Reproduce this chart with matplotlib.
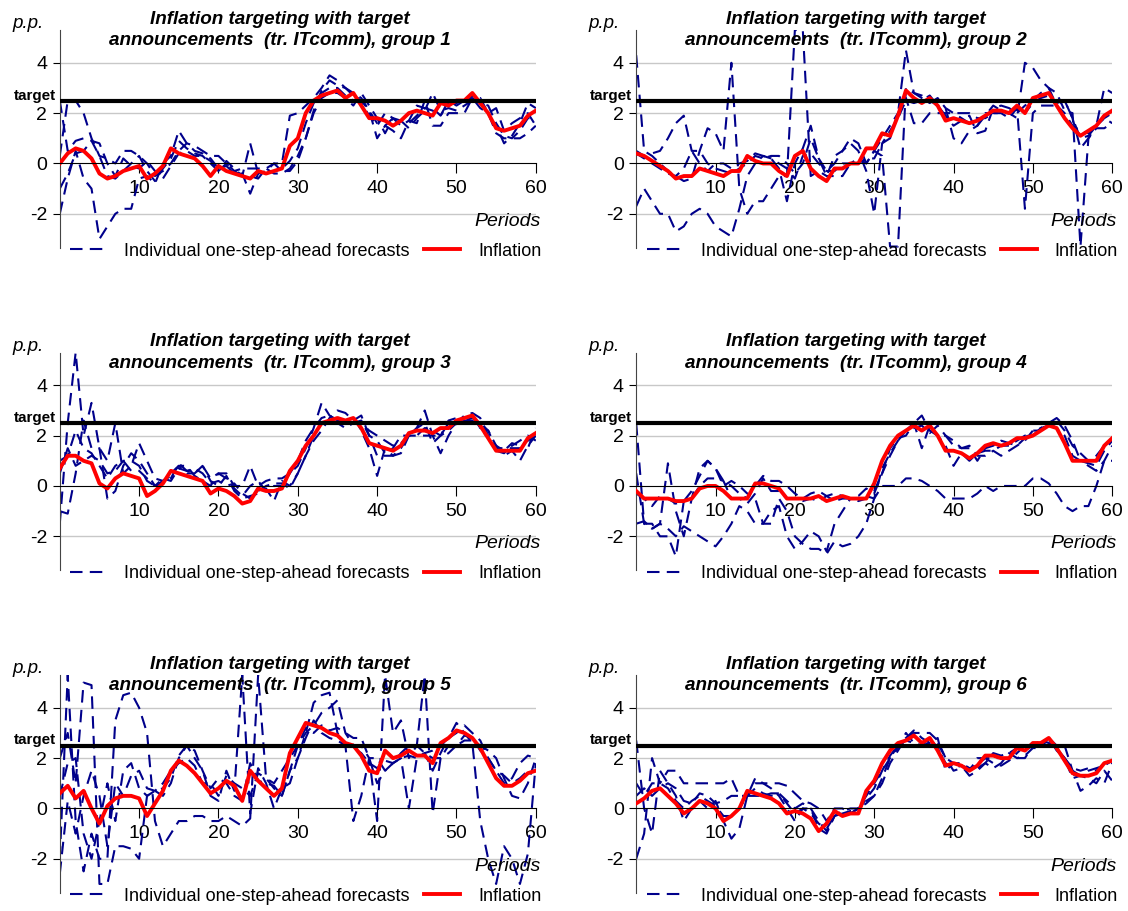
import matplotlib.pyplot as plt
import numpy as np

plt.rcParams['font.family'] = ['Liberation Sans', 'DejaVu Sans']
plt.rcParams['axes.unicode_minus'] = False

def parse(s):
    return [float(v) for v in s.replace('\n', '').split(',')]

# inflation, periods 0..60
infl = {
    1: parse("0.0,0.4,0.6,0.5,0.2,-0.4,-0.6,-0.5,-0.3,-0.2,-0.1,-0.6,-0.4,-0.1,0.6,0.4,0.3,0.2,-0.1,-0.5,-0.1,-0.3,-0.4,-0.5,-0.6,-0.3,-0.4,-0.3,-0.2,0.7,1.0,2.0,2.5,2.7,2.8,2.9,2.6,2.8,2.3,1.8,1.8,1.7,1.5,1.7,2.0,2.1,2.0,1.9,2.4,2.3,2.5,2.5,2.8,2.4,2.0,1.4,1.3,1.4,1.5,1.9,2.1"),
    2: parse("0.4,0.3,0.1,-0.1,-0.3,-0.6,-0.5,-0.5,-0.2,-0.3,-0.4,-0.5,-0.3,-0.3,0.3,0.1,0.0,0.0,-0.3,-0.5,0.3,0.5,-0.2,-0.5,-0.7,-0.2,-0.2,0.0,0.0,0.6,0.6,1.2,1.1,1.9,2.9,2.6,2.4,2.6,2.3,1.7,1.8,1.7,1.6,1.7,1.9,2.1,2.1,2.0,2.3,2.0,2.6,2.7,2.8,2.3,1.8,1.4,1.1,1.3,1.5,1.9,2.1"),
    3: parse("0.7,1.2,1.2,1.0,0.9,0.1,-0.1,0.3,0.5,0.4,0.3,-0.4,-0.2,0.1,0.6,0.5,0.4,0.3,0.2,-0.3,-0.1,-0.2,-0.4,-0.7,-0.6,-0.1,-0.2,-0.2,-0.1,0.6,1.0,1.6,2.0,2.5,2.6,2.7,2.6,2.7,2.3,1.7,1.6,1.5,1.4,1.6,2.1,2.2,2.2,2.1,2.3,2.3,2.6,2.7,2.8,2.4,1.9,1.4,1.4,1.4,1.4,1.9,2.1"),
    4: parse("-0.2,-0.5,-0.5,-0.5,-0.5,-0.6,-0.6,-0.5,-0.1,0.0,0.0,-0.2,-0.5,-0.5,-0.5,0.1,0.1,0.0,-0.1,-0.5,-0.5,-0.5,-0.5,-0.4,-0.6,-0.5,-0.4,-0.5,-0.5,-0.5,0.1,1.0,1.6,2.0,2.2,2.4,2.2,2.4,2.0,1.4,1.4,1.3,1.1,1.3,1.6,1.7,1.6,1.7,1.9,1.9,2.0,2.2,2.4,2.3,1.7,1.0,1.0,1.0,1.0,1.6,1.9"),
    5: parse("0.6,0.9,0.4,0.7,0.0,-0.6,0.1,0.4,0.5,0.5,0.4,-0.3,0.2,0.7,1.5,1.9,1.7,1.4,1.0,0.6,0.8,1.1,0.9,0.3,1.5,1.1,0.8,0.5,0.8,2.2,2.8,3.4,3.3,3.2,3.0,2.9,2.6,2.5,2.1,1.5,1.4,2.3,2.0,2.1,2.3,2.1,2.1,1.8,2.6,2.8,3.1,3.0,2.8,2.4,1.8,1.2,0.9,0.9,1.1,1.4,1.5"),
    6: parse("0.2,0.4,0.7,0.8,0.5,0.2,-0.2,0.0,0.3,0.2,0.0,-0.5,-0.3,0.0,0.7,0.6,0.5,0.4,0.2,-0.2,-0.1,-0.2,-0.4,-0.9,-0.6,-0.1,-0.3,-0.2,-0.2,0.7,1.1,1.8,2.3,2.6,2.7,2.9,2.6,2.8,2.3,1.7,1.8,1.7,1.5,1.7,2.1,2.1,2.0,2.0,2.4,2.3,2.6,2.6,2.8,2.4,1.9,1.4,1.3,1.3,1.4,1.8,1.9"),
}

# individual one-step-ahead forecasts, periods 0..60
fcst = {
    1: [parse("2.5,0.5,0.9,1.0,0.9,0.3,-0.5,-0.6,-0.3,0.0,0.3,-0.3,-0.7,-0.2,0.2,0.9,0.6,0.4,0.3,0.0,-0.3,0.1,-0.2,-0.5,0.8,-0.4,-0.4,-0.3,-0.2,0.1,0.6,1.6,2.4,2.8,3.0,3.0,2.7,2.5,2.4,1.9,1.5,2.0,1.8,1.5,1.7,2.3,2.2,2.2,1.9,2.4,2.4,2.4,2.7,2.5,1.9,1.5,0.8,1.1,1.6,2.4,2.2"),
        parse("-2.0,-0.6,0.5,-0.6,-1.0,-3.0,-2.5,-2.0,-1.8,-1.8,-0.6,-0.5,-0.8,0.0,0.3,1.3,0.8,0.5,0.4,0.2,-0.2,-0.1,-0.4,-0.4,-1.2,-0.4,-0.3,0.0,-0.3,-0.3,0.1,1.0,2.1,2.9,3.3,3.1,3.0,2.8,2.6,2.1,1.6,1.5,1.3,1.0,1.7,1.6,2.5,1.5,1.5,2.0,2.0,2.0,2.6,2.2,2.0,1.2,1.0,1.0,1.0,1.2,1.5"),
        parse("0.3,2.5,2.5,2.0,1.0,0.3,0.2,0.0,0.5,0.5,0.3,0.0,-0.5,-0.3,0.0,0.5,0.8,0.7,0.5,0.3,0.3,0.0,-0.3,-0.2,-0.2,-0.2,-0.2,0.0,0.0,1.9,2.0,2.3,2.6,3.0,3.5,3.3,3.0,2.7,2.5,2.1,1.0,1.5,1.8,1.7,1.4,1.8,2.1,2.8,2.1,2.2,2.1,2.3,2.5,2.6,2.0,2.2,1.3,1.6,1.8,2.0,1.5"),
        parse("-1.0,-0.4,0.4,0.5,0.9,0.8,0.0,-0.5,0.2,-0.1,-0.2,0.1,-0.3,-0.6,-0.1,0.4,0.5,0.3,0.3,0.1,-0.3,0.0,-0.3,-0.5,-0.5,-0.6,-0.2,-0.4,-0.4,-0.2,0.3,1.0,2.0,2.6,2.8,2.8,2.6,2.3,2.8,2.3,1.8,1.2,1.8,1.7,1.6,1.9,2.2,2.1,1.9,2.5,2.3,2.5,2.6,2.4,2.3,1.6,1.1,1.0,1.3,1.8,1.8")],
    2: [parse("4.3,0.5,0.3,0.0,-0.3,-0.5,-0.7,-0.6,0.5,1.4,1.2,0.5,4.0,-1.0,-2.0,-1.5,-1.5,-1.0,-0.5,-0.5,5.3,5.3,-0.5,-0.3,-0.5,-0.5,-0.5,0.0,0.0,0.2,0.2,0.8,1.0,2.0,4.5,2.8,2.7,2.5,2.3,2.2,1.0,0.8,1.3,1.5,2.0,2.0,2.0,2.0,1.8,4.0,3.8,3.3,3.0,2.8,2.1,2.0,-3.3,1.0,1.5,1.8,1.6"),
        parse("-1.7,-1.0,-1.5,-2.0,-2.0,-2.7,-2.5,-2.0,-1.8,-2.0,-2.5,-2.7,-2.9,-1.8,-0.5,0.0,0.3,0.2,0.0,-0.2,-0.6,0.3,0.4,0.0,-0.3,-0.3,0.0,0.0,0.2,0.0,0.5,1.0,1.5,2.0,2.6,1.6,1.6,2.0,2.0,2.0,2.0,2.0,2.0,1.8,1.8,2.0,2.0,1.8,2.2,-1.8,2.0,2.3,2.3,2.3,2.5,1.8,0.6,1.0,1.4,1.4,1.6"),
        parse("0.4,0.2,0.4,0.5,1.0,1.6,1.9,0.5,0.5,0.0,-0.2,-0.3,-0.4,-0.2,0.0,0.3,0.2,0.3,0.3,0.0,-0.4,0.0,1.0,0.2,-0.5,0.3,0.5,0.8,0.5,-0.3,-2.0,0.8,1.3,1.8,2.5,2.4,2.5,2.7,2.3,1.9,1.5,1.7,1.9,1.2,1.3,2.2,2.3,2.2,2.0,2.3,2.5,2.8,3.0,2.3,2.0,1.5,1.3,1.2,1.5,1.8,2.0"),
        parse("0.5,0.3,0.0,-0.2,-0.4,-0.5,-0.2,0.5,0.0,-0.3,0.0,0.0,-0.2,0.0,0.1,0.4,0.3,0.2,-0.2,-1.5,0.0,0.6,1.5,0.2,-0.3,0.0,0.5,1.0,0.8,0.0,0.5,0.3,-3.3,-3.3,3.0,2.8,2.6,2.4,2.6,2.2,2.0,1.8,1.6,1.5,1.9,2.3,2.1,2.0,2.2,2.0,2.4,2.6,2.7,2.4,2.5,1.8,1.0,1.1,1.5,3.0,2.8")],
    3: [parse("-1.5,2.5,5.3,2.0,3.3,1.5,1.0,2.5,0.5,0.8,1.7,1.0,0.3,0.2,0.5,0.8,0.5,0.5,0.8,0.3,0.5,0.5,0.0,0.0,0.8,0.0,0.2,0.3,0.3,0.5,0.8,1.5,2.3,3.3,2.8,2.6,2.5,2.8,2.2,1.5,0.4,1.5,1.2,1.3,2.0,2.3,3.0,2.0,1.3,2.0,2.5,2.8,2.9,2.7,2.0,1.6,1.2,1.4,1.0,1.6,2.0"),
        parse("-1.0,-1.1,0.5,2.6,1.5,1.5,-0.5,-0.2,0.8,1.3,1.0,0.5,0.0,0.3,0.2,0.7,0.6,0.5,0.8,0.2,0.0,0.4,-0.2,-0.5,-0.4,-0.3,-0.1,-0.6,0.2,0.0,0.5,1.2,1.8,2.2,2.7,3.0,2.9,2.6,2.8,2.0,1.2,1.2,1.2,1.5,2.0,2.3,2.5,1.7,2.0,2.2,2.5,2.6,2.7,2.5,2.2,1.5,1.5,1.5,1.5,1.5,2.3"),
        parse("1.0,1.2,2.2,1.5,1.3,0.8,0.3,0.8,1.0,0.6,0.6,0.3,0.0,0.1,0.3,0.9,0.6,0.7,0.5,0.1,0.2,0.0,0.1,-0.3,-0.5,-0.2,0.0,0.1,0.1,-0.1,0.5,1.2,2.0,2.5,2.5,2.5,2.3,2.5,2.5,2.2,2.0,1.8,1.6,1.7,2.0,2.0,2.3,2.2,2.0,2.6,2.7,2.6,2.6,2.3,2.2,1.6,1.4,1.7,1.6,1.8,2.0"),
        parse("0.5,1.5,0.8,1.0,1.2,1.0,0.5,0.6,1.0,1.0,0.8,0.2,0.0,0.2,0.4,0.8,0.8,0.4,0.2,0.0,0.5,0.3,-0.1,-0.4,0.0,0.2,-0.2,0.0,0.0,0.5,1.0,1.8,2.3,2.7,2.8,2.6,2.5,2.5,2.6,2.0,1.8,1.3,1.5,2.0,2.0,2.0,2.0,2.0,2.0,2.5,2.5,2.7,2.8,2.3,1.9,1.4,1.3,1.6,1.8,2.0,1.8")],
    4: [parse("2.5,-1.5,-1.5,-2.0,-2.0,-2.8,-0.6,-0.5,0.0,0.3,0.3,0.2,-0.5,-0.5,-0.7,-0.3,0.3,-0.2,-0.2,-0.5,-0.5,-0.6,-0.5,-0.6,-0.4,-0.6,-0.5,-0.5,-0.6,-0.5,-0.2,0.5,1.5,1.9,2.0,2.5,1.5,2.4,2.0,1.6,0.8,1.3,1.0,1.3,1.4,1.4,1.6,1.6,1.8,2.0,2.0,2.3,2.5,2.3,2.0,1.2,1.0,0.8,0.6,1.0,1.6"),
        parse("-1.5,-1.4,-1.7,-1.5,0.9,-1.0,-2.0,-0.5,0.7,1.0,0.7,0.0,0.2,0.0,-0.3,-0.5,-1.5,-1.5,-0.5,-1.0,-2.0,-2.3,-2.5,-2.5,-2.7,-2.2,-2.4,-2.3,-2.0,-1.5,-0.5,0.0,0.0,0.0,0.3,0.3,0.2,0.0,-0.2,-0.5,-0.5,-0.5,-0.5,-0.3,0.0,-0.2,0.0,0.0,0.0,0.0,0.3,0.3,0.1,-0.3,-0.8,-1.0,-0.8,-0.8,0.0,1.0,1.0"),
        parse("0.5,-1.5,-1.7,-1.5,-1.7,-2.0,-1.6,-1.8,-2.0,-2.2,-2.4,-2.0,-1.5,-0.8,-1.0,-1.5,-1.5,-1.0,-0.8,-2.0,-2.5,-2.2,-1.8,-2.0,-2.6,-1.5,-1.0,-0.5,-0.5,-0.4,-0.5,0.7,1.3,1.8,2.2,2.5,2.8,2.2,2.0,2.0,1.6,1.5,1.6,1.2,1.2,1.4,1.2,1.4,1.6,1.8,2.2,2.3,2.4,2.6,2.2,1.6,1.3,1.0,1.2,1.6,1.8"),
        parse("-0.3,-0.5,-0.8,-0.4,-0.5,-0.7,-0.6,-0.2,0.4,1.0,0.7,0.2,0.0,-0.3,-0.5,0.0,0.4,0.2,0.2,0.0,-0.3,-0.5,-0.3,-0.2,-0.4,-0.3,-0.4,-0.5,-0.4,-0.1,-0.3,0.5,1.2,1.8,2.2,2.3,2.4,2.1,2.4,2.0,1.8,1.5,1.5,1.0,1.5,1.6,1.8,1.7,1.6,1.9,2.2,2.2,2.5,2.7,2.4,1.8,1.0,0.9,0.8,1.4,1.8")],
    5: [parse("2.0,3.0,1.0,5.0,4.9,-3.0,-3.0,-1.5,-1.5,-1.6,-2.0,0.5,0.7,0.5,1.0,2.0,2.5,2.0,1.5,0.5,0.3,1.5,0.7,5.3,-0.2,1.6,1.0,0.0,0.8,1.0,2.0,3.0,4.2,4.5,4.6,3.0,2.5,-0.5,0.5,2.0,2.0,1.5,1.8,2.0,0.0,2.0,2.2,2.3,2.5,2.8,3.4,3.0,2.6,-0.5,-2.0,-3.0,-1.5,-2.0,-3.0,-1.8,1.8"),
        parse("-2.0,5.3,-0.5,-2.5,-1.0,-2.0,-2.0,3.5,4.5,4.6,4.0,3.0,-0.5,-1.5,-1.0,-0.5,-0.5,-0.3,-0.3,-0.5,-0.5,-0.3,-0.5,-0.7,-0.4,5.3,1.2,1.0,1.5,2.0,2.5,3.0,3.3,3.8,4.0,4.3,3.0,2.5,2.5,2.0,-0.5,5.3,3.0,3.5,2.0,2.5,5.3,-0.2,2.0,2.5,2.5,2.7,2.7,2.5,2.3,2.0,1.2,0.5,0.4,1.0,2.0"),
        parse("0.5,1.8,2.0,-1.0,-2.0,-0.5,1.0,-0.5,1.5,1.8,0.8,0.5,0.7,0.8,1.2,2.1,2.5,2.3,1.5,0.8,1.2,1.0,0.5,0.3,1.8,1.1,1.0,0.9,0.5,1.5,2.5,3.2,3.0,3.3,3.1,3.2,3.0,2.8,2.8,2.0,1.0,1.5,1.8,2.2,2.5,2.5,2.2,2.0,2.0,2.2,2.5,2.9,2.8,2.3,2.0,1.5,1.3,1.0,1.2,1.5,1.5"),
        parse("-2.6,0.3,-1.0,0.5,1.5,0.5,-1.5,1.0,0.5,1.3,1.5,0.8,0.7,1.0,1.5,1.8,2.0,1.7,1.0,1.0,0.5,1.3,1.0,0.8,0.5,1.4,1.2,0.8,0.5,1.5,2.0,2.8,3.5,3.0,2.8,2.7,2.5,2.4,2.2,1.8,1.6,1.9,1.8,2.0,2.1,2.0,2.2,1.5,2.2,2.8,3.0,3.3,3.0,2.7,2.0,1.5,1.0,1.2,1.8,2.1,2.0")],
    6: [parse("-2.0,-1.0,2.0,1.0,1.5,1.5,1.0,1.0,1.0,1.0,1.0,1.0,1.2,0.5,0.5,1.0,1.0,1.0,1.0,0.9,0.6,0.3,0.2,0.0,-0.5,0.0,0.0,-0.2,0.0,0.3,0.5,1.0,1.8,2.3,2.8,3.0,3.0,3.0,2.7,2.0,1.5,1.6,1.5,2.0,2.0,2.0,2.0,2.0,2.0,2.0,2.5,2.6,2.8,2.5,2.5,1.5,0.7,0.9,1.2,1.0,1.8"),
        parse("2.7,0.0,-1.0,1.5,1.0,0.5,-0.5,0.0,0.3,0.0,0.3,-0.5,-1.2,-0.8,0.5,1.2,1.0,0.8,0.5,0.0,-0.5,0.0,0.0,-0.8,-1.0,-0.3,-0.2,-0.2,0.0,0.2,0.5,1.2,2.0,2.5,2.8,3.1,2.8,2.6,2.8,1.5,1.8,1.7,1.3,1.5,1.8,1.6,1.8,2.2,2.0,2.1,2.4,2.4,2.8,2.3,2.0,1.2,1.3,1.2,1.0,1.5,1.1"),
        parse("0.5,0.8,0.5,0.8,1.0,0.8,0.3,0.2,0.6,0.5,0.2,0.3,0.5,0.5,0.5,0.8,0.6,0.5,0.6,0.3,0.0,0.2,0.0,-0.5,-0.9,-0.3,-0.1,0.0,0.0,0.5,1.0,1.5,2.0,2.4,3.0,2.6,2.5,2.6,2.6,2.0,1.8,1.8,1.6,1.7,2.0,1.8,1.7,1.9,2.2,2.5,2.6,2.5,2.7,2.4,2.0,1.6,1.5,1.6,1.5,1.8,1.8"),
        parse("1.0,0.5,1.0,1.0,0.8,0.3,0.0,0.3,0.5,0.3,0.1,-0.3,-0.3,0.0,0.5,0.5,0.5,0.6,0.6,0.2,-0.2,0.0,-0.2,-0.6,-0.8,-0.3,-0.2,-0.1,-0.1,0.4,0.8,1.5,2.1,2.5,2.7,2.6,2.5,2.8,2.4,1.8,1.6,1.7,1.6,1.6,1.8,2.2,2.1,2.2,2.4,2.3,2.5,2.7,2.6,2.4,2.0,1.5,1.3,1.5,1.6,1.7,1.9")],
}

target = 2.5
yticks = [-2, 0, 2, 4]
xticks = [10, 20, 30, 40, 50, 60]

fig = plt.figure(figsize=(11.28, 9.11), dpi=100)
lefts = [0.053, 0.564]
bottoms = [0.728, 0.374, 0.020]

for g in range(1, 7):
    row, col = (g - 1) // 2, (g - 1) % 2
    ax = fig.add_axes([lefts[col], bottoms[row], 0.422, 0.239])
    for y in [-2, 2, 4]:
        ax.axhline(y, color='#c8c8c8', lw=1, zorder=0)
    for i, f in enumerate(fcst[g]):
        ax.plot(range(len(f)), f, color='#00008b', lw=1.5, dashes=(6, 3.5),
                label='Individual one-step-ahead forecasts' if i == 0 else None, zorder=2)
    ax.plot(range(len(infl[g])), infl[g], color='#ff0000', lw=2.8, label='Inflation', zorder=3)
    ax.axhline(target, color='black', lw=3, zorder=4)
    ax.set_xlim(0, 60)
    ax.set_ylim(-3.35, 5.3)
    ax.spines['top'].set_visible(False)
    ax.spines['right'].set_visible(False)
    ax.spines['bottom'].set_position(('data', 0))
    ax.spines['bottom'].set_zorder(5)
    ax.spines['left'].set_color('#444444')
    ax.set_xticks(xticks)
    ax.set_yticks(yticks)
    ax.tick_params(axis='x', length=7, pad=5, labelsize=14)
    ax.tick_params(axis='y', length=5, pad=4, labelsize=14)
    ax.text(-0.5, target + 0.2, 'target', ha='right', va='center', fontsize=11, fontweight='bold')
    ax.text(-0.1, 1.03, 'p.p.', transform=ax.transAxes, fontsize=13.5, style='italic', va='center')
    ax.text(60.6, -2.3, 'Periods', ha='right', va='center', fontsize=14, style='italic')
    ax.text(0.462, 1.0, 'Inflation targeting with target\nannouncements  (tr. ITcomm), group %d' % g,
            transform=ax.transAxes, ha='center', va='center', fontsize=13.6,
            fontweight='bold', style='italic', linespacing=1.35, zorder=6)
    ax.legend(loc='center', bbox_to_anchor=(0.517, -0.015), ncol=2, frameon=False,
              fontsize=13, handlelength=2.0, handletextpad=1.0, columnspacing=0.8,
              borderaxespad=0, borderpad=0)

fig.savefig('out.png', dpi=100)
